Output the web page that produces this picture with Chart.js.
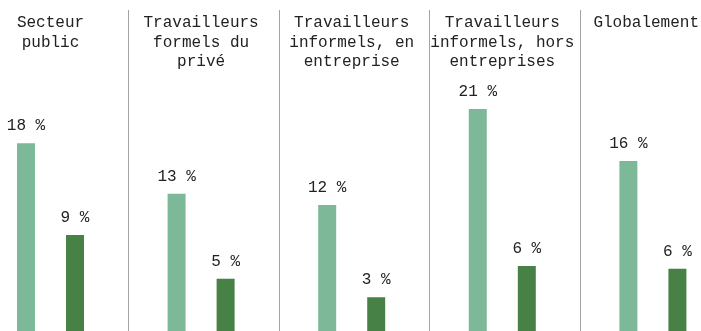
<!DOCTYPE html>
<html>
<head>
<meta charset="utf-8">
<script src="https://cdn.jsdelivr.net/npm/chart.js@4"></script>
<style>
  html, body { margin: 0; padding: 0; background: #fff; }
  #wrap { width: 701px; height: 331px; }
</style>
</head>
<body>
<div id="wrap"><canvas id="chart" width="701" height="331"></canvas></div>
<script>
// panel titles, one array of lines per group
const groups = [
  ['Secteur', 'public'],
  ['Travailleurs', 'formels du', 'privé'],
  ['Travailleurs', 'informels, en', 'entreprise'],
  ['Travailleurs', 'informels, hors', 'entreprises'],
  ['Globalement']
];
const lightValues = [17.8, 13.0, 11.95, 21.05, 16.1];
const darkValues = [9.1, 4.95, 3.2, 6.15, 5.9];

const FONT = '"Liberation Mono", "DejaVu Sans Mono", monospace';

// titles above each group + separators between panels
const panelDecor = {
  id: 'panelDecor',
  afterDraw(chart) {
    const ctx = chart.ctx;
    const x = chart.scales.x;
    const bottom = chart.chartArea.bottom;
    ctx.save();
    ctx.strokeStyle = '#a3a3a3';
    ctx.lineWidth = 1;
    for (let i = 0; i < groups.length - 1; i++) {
      const px = Math.round(x.getPixelForValue(i + 0.516)) + 0.5;
      ctx.beginPath();
      ctx.moveTo(px, 10);
      ctx.lineTo(px, bottom);
      ctx.stroke();
    }
    ctx.font = '16px ' + FONT;
    ctx.fillStyle = '#222';
    ctx.textAlign = 'center';
    ctx.textBaseline = 'alphabetic';
    groups.forEach((lines, i) => {
      const cx = x.getPixelForValue(i);
      lines.forEach((line, j) => {
        const w = ctx.measureText(line).width;
        let tx = cx;
        if (tx + w / 2 > chart.width - 2) tx = chart.width - 2 - w / 2;
        ctx.fillText(line, tx, 27 + j * 19.5);
      });
    });
    ctx.restore();
  }
};

// value labels above the bars
const barLabels = {
  id: 'barLabels',
  afterDatasetsDraw(chart) {
    const ctx = chart.ctx;
    ctx.save();
    ctx.font = '16px ' + FONT;
    ctx.fillStyle = '#222';
    ctx.textAlign = 'center';
    ctx.textBaseline = 'bottom';
    chart.data.datasets.forEach((ds, di) => {
      chart.getDatasetMeta(di).data.forEach((bar, i) => {
        ctx.fillText(Math.round(ds.data[i].y) + ' %', bar.x, bar.y - 9);
      });
    });
    ctx.restore();
  }
};

const ctx = document.getElementById('chart').getContext('2d');
new Chart(ctx, {
  type: 'bar',
  data: {
    datasets: [{
      data: lightValues.map((v, i) => ({ x: i, y: v })),
      backgroundColor: '#7db998'
    }, {
      data: darkValues.map((v, i) => ({ x: i, y: v })),
      backgroundColor: '#488146'
    }]
  },
  options: {
    responsive: false,
    animation: false,
    layout: { padding: 0 },
    categoryPercentage: 0.651,
    barPercentage: 0.367,
    scales: {
      x: {
        type: 'linear', display: false, offset: false, min: -0.3353, max: 4.3194,
        // one tick per group so the bar width follows the group spacing
        afterBuildTicks: (scale) => { scale.ticks = groups.map((g, i) => ({ value: i })); }
      },
      y: { display: false, min: 0, max: 31.37 }
    },
    plugins: {
      legend: { display: false },
      tooltip: { enabled: false }
    }
  },
  plugins: [panelDecor, barLabels]
});
</script>
</body>
</html>
